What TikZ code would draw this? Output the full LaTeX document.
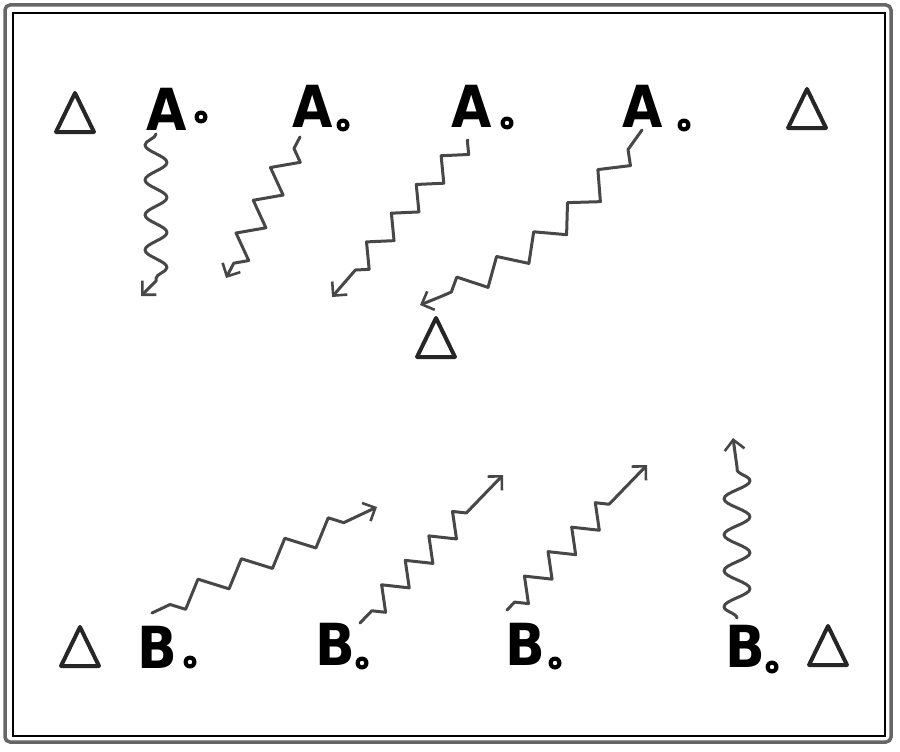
\documentclass[tikz,border=0pt]{standalone}
\usepackage{fontspec}
\setsansfont{DejaVu Sans}
\usetikzlibrary{decorations.pathmorphing,arrows.meta}
\begin{document}
\begin{tikzpicture}[x=1pt,y=-1pt,
  lbl/.style={font=\sffamily\bfseries\fontsize{58}{58}\selectfont, inner sep=0pt, anchor=base},
  ring/.style={circle, fill=black, minimum size=13pt, inner sep=0pt,
    path picture={\fill[white] (path picture bounding box.center) circle (2.2pt);}},
  tri/.style={draw=black!85, line width=4pt, line join=round},
  wline/.style={draw=black!72, line width=3pt, line join=round, line cap=round,
    -{Straight Barb[length=10pt,width=20pt,line width=2.6pt]}},
  zz/.style={wline, decorate, decoration={zigzag, #1}},
  snk/.style={decoration={snake, #1}},
]
\useasboundingbox (0,0) rectangle (900,752);
% frame
\draw[black!60, line width=3.5pt, rounded corners=5pt] (5,5) rectangle (891,742);
\draw[black, line width=1.2pt] (13,13) rectangle (885,736);

% triangles
\foreach \n/\cx/\cy in {t1/75/113, t2/807/109, t3/436/338, t4/80/647, t5/828/646}{
  \coordinate (\n) at (\cx,\cy);
  \draw[tri] (\n) ++(0,-20) -- ++(19,39) -- ++(-38,0) -- cycle;
}

% A labels
\node[lbl] (A1) at (167,130) {\scalebox{0.9}[1]{A}};
\node[lbl] (A2) at (313,127) {\scalebox{0.9}[1]{A}};
\node[lbl] (A3) at (472,127) {\scalebox{0.9}[1]{A}};
\node[lbl] (A4) at (643,127) {\scalebox{0.9}[1]{A}};
\node[ring] (a1r) at (201,117) {};
\node[ring] (a2r) at (343,125) {};
\node[ring] (a3r) at (507,123) {};
\node[ring] (a4r) at (684,125) {};

% B labels
\node[lbl] (B1) at (157,668) {\scalebox{0.9}[1]{B}};
\node[lbl] (B2) at (335,665) {\scalebox{0.9}[1]{B}};
\node[lbl] (B3) at (525,665) {\scalebox{0.9}[1]{B}};
\node[lbl] (B4) at (745,667) {\scalebox{0.9}[1]{B}};
\node[ring] (b1r) at (190,662) {};
\node[ring] (b2r) at (362,663) {};
\node[ring] (b3r) at (555,663) {};
\node[ring] (b4r) at (772,667) {};

% arrow end points
\coordinate (a1s) at (156,134); \coordinate (a1m) at (156,281); \coordinate (a1e) at (141,296);
\coordinate (a2s) at (300,137); \coordinate (a2e) at (226,278);
\coordinate (a3s) at (468,140); \coordinate (a3e) at (332,297);
\coordinate (a4s) at (642,130); \coordinate (a4e) at (420,305);
\coordinate (b1s) at (152,613); \coordinate (b1e) at (377,507);
\coordinate (b2s) at (360,623); \coordinate (b2e) at (503,475);
\coordinate (b3s) at (507,610); \coordinate (b3e) at (647,465);
\coordinate (b4s) at (737,618); \coordinate (b4m) at (737,467); \coordinate (b4e) at (733,438);

% wavy arrows from A
\draw[wline] (a1s) decorate[snk={segment length=35pt, amplitude=11pt, mirror}] {-- (a1m)} -- (a1e);
\draw[zz={segment length=37pt, amplitude=12pt, pre length=13pt, post length=10pt}] (a2s) -- (a2e);
\draw[zz={segment length=38pt, amplitude=10pt, pre length=1pt, post length=28pt}] (a3s) -- (a3e);
\draw[zz={segment length=46pt, amplitude=11.5pt, pre length=24pt, post length=22pt}] (a4s) to[bend left=17] (a4e);

% wavy arrows to B
\draw[zz={segment length=48pt, amplitude=11pt, pre length=20pt, post length=26pt, mirror}] (b1s) -- (b1e);
\draw[zz={segment length=34pt, amplitude=11pt, pre length=17pt, post length=44pt, mirror}] (b2s) -- (b2e);
\draw[zz={segment length=34pt, amplitude=11pt, pre length=11pt, post length=45pt, mirror}] (b3s) -- (b3e);
\draw[wline] (b4s) decorate[snk={segment length=36pt, amplitude=13pt}] {-- (b4m)} -- (b4e);
\end{tikzpicture}
\end{document}
